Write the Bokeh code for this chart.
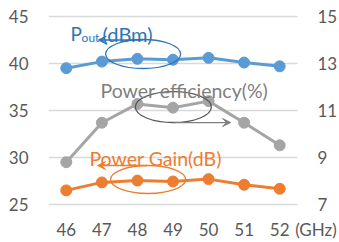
from bokeh.plotting import figure
from bokeh.models import Range1d, FixedTicker, Arrow, VeeHead, ColumnDataSource
from bokeh.core.properties import value
from bokeh.embed import file_html
from bokeh.resources import INLINE

freq = [46, 47, 48, 49, 50, 51, 52]
pout_dbm = [39.5, 40.2, 40.5, 40.4, 40.6, 40.1, 39.7]
efficiency_pct = [29.5, 33.7, 35.7, 35.3, 36.0, 33.7, 31.3]
gain_db = [7.6, 7.94, 8.02, 7.98, 8.08, 7.84, 7.67]
left_ticks = [25, 30, 35, 40, 45]
right_ticks = [7, 9, 11, 13, 15]
x_unit_label = "(GHz)"

BLUE = "#5B9BD5"
GRAY = "#A5A5A5"
ORANGE = "#ED7D31"
DBLUE = "#2E75B6"
DGRAY = "#7F7F7F"
TXT = "#595959"
FONT = "Lato"

# data area: x 45.5..52.5, left 25..45, right 7..15; the frame is padded around it
# so the right-hand value labels and the unit label have room, as in the original
X0, X1 = 45.5, 52.5
X_EXT = 53.681
PAD_L = 10 / 9.4     # 10 px in left-axis units
PAD_R = 10 / 23.5    # 10 px in right-axis units
UNIT_POS = 53.02
RLAB_POS = 53.06

p = figure(frame_width=291, frame_height=208, output_backend="svg", toolbar_location=None,
           x_range=Range1d(X0, X_EXT), y_range=Range1d(25 - PAD_L, 45 + PAD_L),
           min_border_left=48, min_border_right=0, min_border_top=6, min_border_bottom=28)
p.outline_line_color = None
p.background_fill_color = "white"
p.border_fill_color = "white"
p.extra_y_ranges = {"right": Range1d(7 - PAD_R, 15 + PAD_R)}

def style_axis(ax):
    ax.axis_line_color = None
    ax.major_tick_line_color = None
    ax.minor_tick_line_color = None
    ax.major_tick_out = 0
    ax.major_tick_in = 0
    ax.major_label_text_font = FONT
    ax.major_label_text_font_size = "17px"
    ax.major_label_text_color = TXT

p.xaxis.ticker = FixedTicker(ticks=freq + [UNIT_POS])
p.xaxis.major_label_overrides = {UNIT_POS: x_unit_label}
p.yaxis.ticker = FixedTicker(ticks=left_ticks)
style_axis(p.xaxis[0])
style_axis(p.yaxis[0])
p.xaxis.major_label_standoff = 4
p.yaxis.major_label_standoff = 20

p.xgrid.grid_line_color = None
p.ygrid.grid_line_color = None

# horizontal grid lines over the data area
p.segment(x0=[X0] * len(left_ticks), x1=[X1] * len(left_ticks), y0=left_ticks, y1=left_ticks,
          line_color="#D9D9D9", line_width=1.5)

# right-hand value labels (secondary scale)
p.text(x=[RLAB_POS] * len(right_ticks), y=right_ticks, text=[str(t) for t in right_ticks],
       y_range_name="right", text_font=value(FONT), text_font_size="17px", text_color=TXT,
       text_align="left", text_baseline="middle")

src = ColumnDataSource(dict(x=freq, pout=pout_dbm, eff=efficiency_pct, gain=gain_db))
p.line("x", "pout", source=src, color=BLUE, line_width=3)
p.scatter("x", "pout", source=src, color=BLUE, size=11)
p.line("x", "eff", source=src, color=GRAY, line_width=3)
p.scatter("x", "eff", source=src, color=GRAY, size=11)
p.line("x", "gain", source=src, color=ORANGE, line_width=3, y_range_name="right")
p.scatter("x", "gain", source=src, color=ORANGE, size=11, y_range_name="right")

# annotations: ellipses
p.ellipse(x=[48.16], y=[41.01], width=75, height=29, width_units="screen", height_units="screen",
          fill_color=None, line_color=DBLUE, line_width=1.3)
p.ellipse(x=[49.01], y=[35.37], width=76, height=31, width_units="screen", height_units="screen",
          fill_color=None, line_color="#595959", line_width=1.3)
p.ellipse(x=[48.3], y=[27.66], width=75, height=28, width_units="screen", height_units="screen",
          fill_color=None, line_color=ORANGE, line_width=1.3)

# arrows
p.add_layout(Arrow(x_start=48.17, y_start=42.5, x_end=46.9, y_end=42.5, line_color=DBLUE, line_width=1.3,
                   end=VeeHead(size=8, line_color=DBLUE, fill_color=DBLUE, line_width=1)))
p.add_layout(Arrow(x_start=49.01, y_start=33.72, x_end=50.62, y_end=33.72, line_color=DGRAY, line_width=1.3,
                   end=VeeHead(size=8, line_color=DGRAY, fill_color=DGRAY, line_width=1)))
p.add_layout(Arrow(x_start=48.28, y_start=29.15, x_end=46.88, y_end=29.15, line_color=ORANGE, line_width=1.3,
                   end=VeeHead(size=8, line_color=ORANGE, fill_color=ORANGE, line_width=1)))

# texts
p.text(x=[46.118], y=[43.19], text=["P"], text_font=value(FONT), text_font_size="19px",
       text_color=DBLUE, text_baseline="alphabetic")
p.text(x=[46.43], y=[42.75], text=["out"], text_font=value(FONT), text_font_size="12px",
       text_color=DBLUE, text_baseline="alphabetic")
p.text(x=[47.02], y=[43.19], text=["(dBm)"], text_font=value(FONT), text_font_size="20px",
       text_color=DBLUE, text_baseline="alphabetic")
p.text(x=[46.96], y=[37.13], text=["Power efficiency(%)"], text_font=value(FONT), text_font_size="19.5px",
       text_color=DGRAY, text_baseline="alphabetic")
p.text(x=[46.65], y=[29.89], text=["Power Gain(dB)"], text_font=value(FONT), text_font_size="19.5px",
       text_color=ORANGE, text_baseline="alphabetic")

open("out.html", "w").write(file_html(p, INLINE))
